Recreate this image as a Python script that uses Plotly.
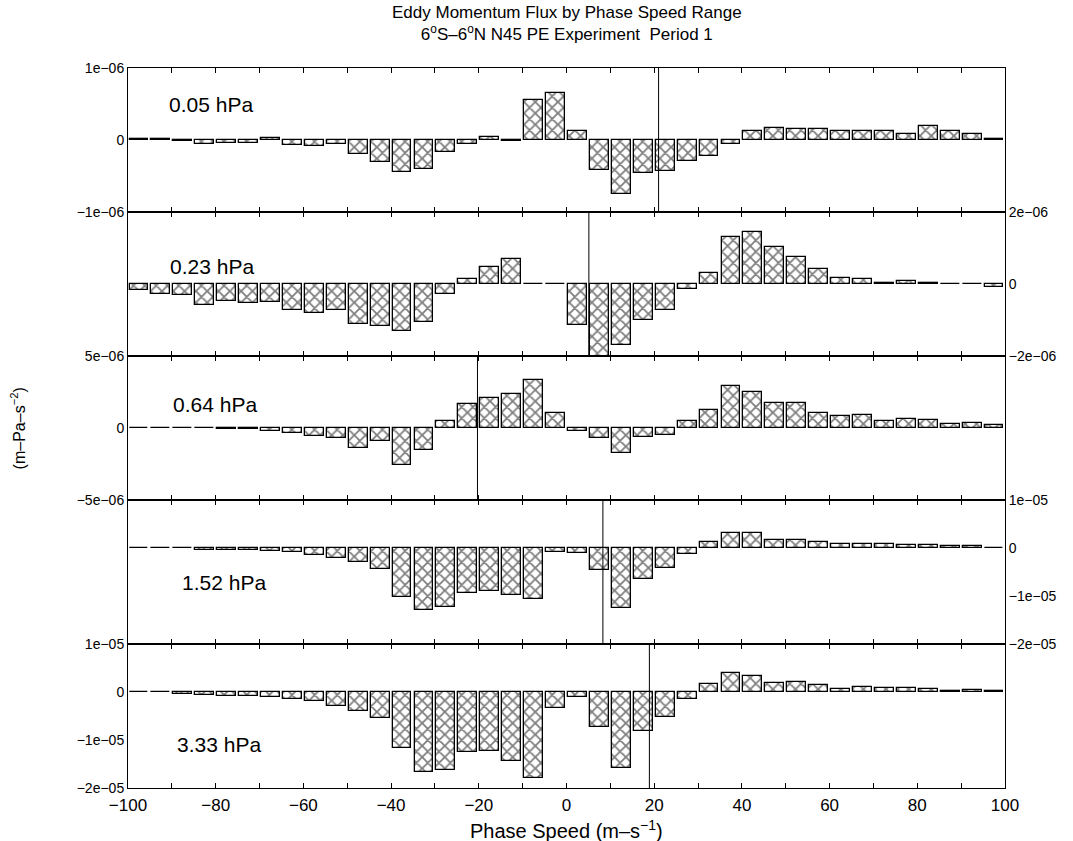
import plotly.graph_objects as go
from plotly.subplots import make_subplots

# Phase speed bin centres (m/s)
phase_speed = [-97.5, -92.5, -87.5, -82.5, -77.5, -72.5, -67.5, -62.5, -57.5, -52.5,
               -47.5, -42.5, -37.5, -32.5, -27.5, -22.5, -17.5, -12.5, -7.5, -2.5,
               2.5, 7.5, 12.5, 17.5, 22.5, 27.5, 32.5, 37.5, 42.5, 47.5,
               52.5, 57.5, 62.5, 67.5, 72.5, 77.5, 82.5, 87.5, 92.5, 97.5]

levels = ["0.05 hPa", "0.23 hPa", "0.64 hPa", "1.52 hPa", "3.33 hPa"]

# Eddy momentum flux, units of 1e-6 m-Pa-s^-2
flux_005 = [0.02, 0.01, -0.01, -0.055, -0.04, -0.04, 0.025, -0.065, -0.09, -0.06,
            -0.20, -0.30, -0.44, -0.40, -0.17, -0.06, 0.04, -0.01, 0.55, 0.65,
            0.12, -0.41, -0.75, -0.46, -0.43, -0.29, -0.22, -0.06, 0.13, 0.17,
            0.15, 0.15, 0.13, 0.12, 0.12, 0.08, 0.19, 0.12, 0.08, 0.02]
flux_023 = [-0.17, -0.27, -0.30, -0.58, -0.48, -0.52, -0.51, -0.71, -0.80, -0.73,
            -1.11, -1.17, -1.31, -1.05, -0.27, 0.13, 0.47, 0.70, 0.01, 0.01,
            -1.13, -2.05, -1.69, -0.99, -0.71, -0.13, 0.31, 1.31, 1.44, 1.04,
            0.74, 0.41, 0.18, 0.14, 0.03, 0.08, 0.02, 0.01, 0.01, -0.07]
flux_064 = [0.01, 0.01, 0.02, 0.01, -0.05, -0.05, -0.20, -0.37, -0.53, -0.67,
            -1.41, -0.90, -2.57, -1.55, 0.49, 1.64, 2.06, 2.36, 3.33, 1.02,
            -0.18, -0.67, -1.76, -0.60, -0.51, 0.46, 1.27, 2.89, 2.48, 1.76,
            1.71, 1.06, 0.81, 0.88, 0.51, 0.60, 0.53, 0.30, 0.35, 0.21]
flux_152 = [0.02, 0.02, 0.02, -0.5, -0.5, -0.5, -0.6, -0.9, -1.5, -2.1,
            -2.9, -4.4, -10.2, -13.0, -12.2, -9.4, -8.9, -9.7, -10.6, -0.8,
            -1.0, -4.5, -12.6, -6.4, -4.2, -1.3, 1.25, 3.1, 3.1, 1.7,
            1.7, 1.3, 0.9, 0.9, 0.75, 0.7, 0.65, 0.4, 0.4, 0.1]
flux_333 = [0.05, 0.05, -0.4, -0.6, -0.8, -0.9, -1.1, -1.4, -1.9, -3.0,
            -3.9, -5.4, -11.7, -16.7, -16.3, -12.6, -12.3, -14.3, -17.9, -3.4,
            -1.1, -7.3, -15.8, -8.1, -5.3, -1.5, 1.7, 4.0, 3.3, 1.9,
            2.15, 1.45, 0.7, 0.95, 0.9, 0.75, 0.65, 0.2, 0.4, 0.2]
flux_series = [flux_005, flux_023, flux_064, flux_152, flux_333]

# Vertical marker line per level (m/s)
marker_speed = [21.0, 5.1, -20.3, 8.3, 18.9]

# Axis ranges and tick labels per panel
y_ranges = [[-1e-6, 1e-6], [-2e-6, 2e-6], [-5e-6, 5e-6], [-2e-5, 1e-5], [-2e-5, 1e-5]]
y_tickvals = [[-1e-6, 0, 1e-6], [-2e-6, 0, 2e-6], [-5e-6, 0, 5e-6],
              [-2e-5, -1e-5, 0, 1e-5], [-2e-5, -1e-5, 0, 1e-5]]
y_ticktext = [["\u22121e\u221206", "0", "1e\u221206"],
              ["\u22122e\u221206", "0", "2e\u221206"],
              ["\u22125e\u221206", "0", "5e\u221206"],
              ["\u22122e\u221205", "\u22121e\u221205", "0", "1e\u221205"],
              ["\u22122e\u221205", "\u22121e\u221205", "0", "1e\u221205"]]
y_sides = ["left", "right", "left", "right", "left"]
x_tickvals = [-100, -90, -80, -70, -60, -50, -40, -30, -20, -10, 0,
              10, 20, 30, 40, 50, 60, 70, 80, 90, 100]
x_ticktext = ["\u2212100", "", "\u221280", "", "\u221260", "", "\u221240", "", "\u221220", "", "0",
              "", "20", "", "40", "", "60", "", "80", "", "100"]
label_pos = [(0.044, 0.75), (0.046, 0.62), (0.049, 0.66), (0.059, 0.43), (0.054, 0.305)]

FONT = "Liberation Sans, Arial, Helvetica, sans-serif"

fig = make_subplots(rows=5, cols=1, shared_xaxes=True, vertical_spacing=0)

for i, vals in enumerate(flux_series):
    row = i + 1
    fig.add_trace(go.Bar(
        x=phase_speed,
        y=[v * 1e-6 for v in vals],
        width=4.3,
        marker=dict(color="white",
                    line=dict(color="black", width=1.3),
                    pattern=dict(shape="x", fgcolor="black", bgcolor="white",
                                 size=8, solidity=0.4)),
        showlegend=False,
    ), row=row, col=1)

    fig.update_yaxes(range=y_ranges[i], tickvals=y_tickvals[i], ticktext=y_ticktext[i],
                     side=y_sides[i], showline=True, mirror=True, linecolor="black",
                     linewidth=1, showgrid=False, zeroline=False, ticks="",
                     tickfont=dict(family=FONT, size=14, color="black"),
                     row=row, col=1)
    fig.update_xaxes(range=[-100, 100], tickvals=x_tickvals, ticktext=x_ticktext,
                     showline=True, mirror="ticks", linecolor="black", linewidth=1,
                     ticks="inside", ticklen=5, tickcolor="black", showgrid=False,
                     zeroline=False, showticklabels=(row == 5),
                     tickfont=dict(family=FONT, size=17, color="black"),
                     ticklabelstandoff=2,
                     row=row, col=1)

    xref = "x" if row == 1 else f"x{row}"
    yref = "y" if row == 1 else f"y{row}"
    fig.add_shape(type="line", x0=marker_speed[i], x1=marker_speed[i], y0=0, y1=1,
                  xref=xref, yref=f"{yref} domain",
                  line=dict(color="black", width=1))
    fig.add_annotation(text=levels[i], x=label_pos[i][0], y=label_pos[i][1],
                       xref=f"{xref} domain", yref=f"{yref} domain",
                       xanchor="left", yanchor="middle", showarrow=False,
                       font=dict(family=FONT, size=21, color="black"))

fig.add_annotation(text="Eddy Momentum Flux by Phase Speed Range<br>"
                        "6<sup>o</sup>S\u20136<sup>o</sup>N N45 PE Experiment  Period 1",
                   x=0.5, y=1.062, xref="paper", yref="paper", showarrow=False,
                   xanchor="center", yanchor="middle",
                   font=dict(family=FONT, size=17, color="black"))
fig.add_annotation(text="Phase Speed (m\u2013s<sup>\u22121</sup>)",
                   x=0.5, y=-0.058, xref="paper", yref="paper", showarrow=False,
                   xanchor="center", yanchor="middle",
                   font=dict(family=FONT, size=20, color="black"))
fig.add_annotation(text="(m\u2013Pa\u2013s<sup>\u22122</sup>)",
                   x=-0.125, y=0.5, xref="paper", yref="paper", showarrow=False,
                   xanchor="center", yanchor="middle", textangle=-90,
                   font=dict(family=FONT, size=16, color="black"))

fig.update_layout(
    width=1073, height=841,
    margin=dict(l=128, r=68, t=68, b=53),
    paper_bgcolor="white", plot_bgcolor="white",
    bargap=0,
    font=dict(family=FONT, color="black"),
)

fig.write_html("out.html")
